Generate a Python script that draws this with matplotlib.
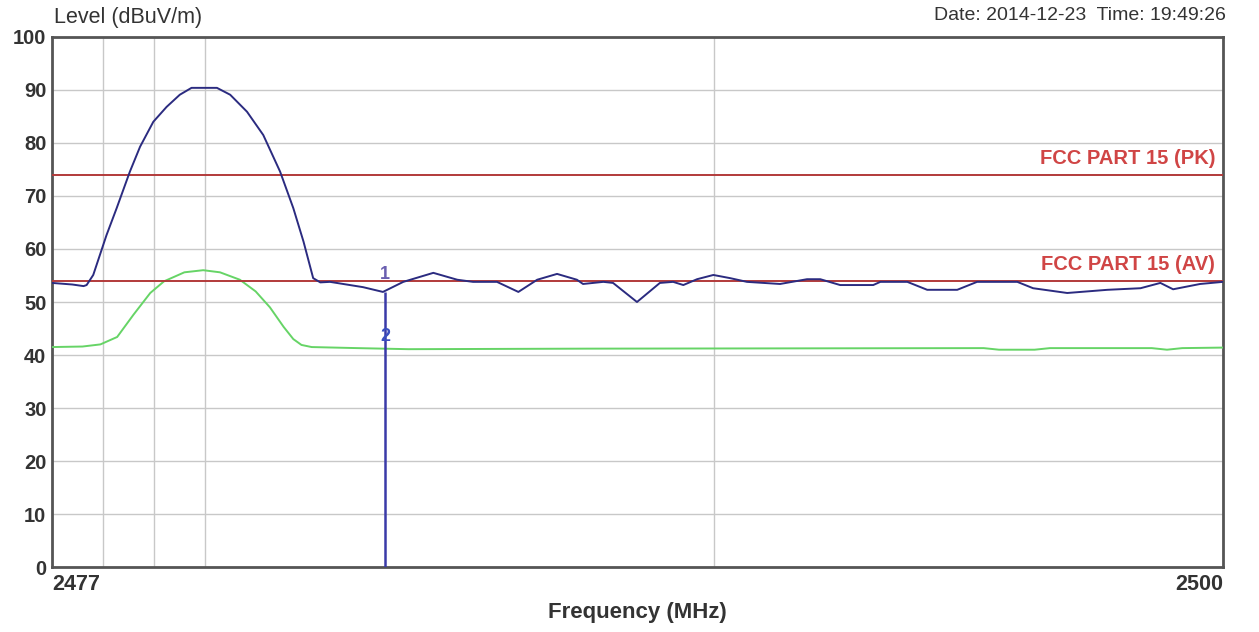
import numpy as np
import matplotlib.pyplot as plt

plt.rcParams['font.family'] = ['Liberation Sans', 'DejaVu Sans']

# peak trace (blue)
pk_freq = [2477.0, 2477.4, 2477.62, 2477.68, 2477.81, 2478.07, 2478.27, 2478.53, 2478.73,
           2478.99, 2479.25, 2479.51, 2479.74, 2480.24, 2480.5, 2480.83, 2481.15, 2481.48,
           2481.74, 2481.94, 2482.13, 2482.27, 2482.46,
           2483.11, 2483.5, 2483.9, 2484.49, 2484.96, 2485.27, 2485.74, 2486.16, 2486.53,
           2486.92, 2487.31, 2487.43, 2487.83, 2488.02, 2488.49, 2488.94, 2489.2, 2489.4,
           2489.67, 2489.99, 2490.32, 2490.65, 2491.3, 2491.83, 2492.09, 2492.48, 2493.13,
           2493.27, 2493.8, 2494.19, 2494.78, 2495.17, 2495.96, 2496.27, 2496.94, 2497.73,
           2498.38, 2498.77, 2499.02, 2499.55, 2500.0]
pk_level = [53.6, 53.3, 53.0, 53.2, 55.1, 62.6, 67.7, 74.6, 79.3,
            84.0, 86.8, 89.1, 90.4, 90.4, 89.1, 85.9, 81.5, 74.6,
            67.7, 61.4, 54.5, 53.7, 53.8,
            52.8, 51.9, 53.8, 55.5, 54.2, 53.8, 53.8, 51.9, 54.2,
            55.3, 54.2, 53.4, 53.8, 53.6, 50.0, 53.6, 53.8, 53.2,
            54.3, 55.1, 54.5, 53.8, 53.4, 54.3, 54.3, 53.2, 53.2,
            53.8, 53.8, 52.3, 52.3, 53.8, 53.8, 52.6, 51.7, 52.3,
            52.6, 53.6, 52.4, 53.4, 53.8]

# average trace (green)
av_freq = [2477.0, 2477.6, 2477.95, 2478.28, 2478.6, 2478.93, 2479.2, 2479.6, 2479.97,
           2480.3, 2480.69, 2481.0, 2481.28, 2481.55, 2481.74, 2481.9, 2482.1, 2483.0,
           2484.0, 2487.5, 2495.3, 2495.6, 2496.3, 2496.6, 2498.6, 2498.9, 2499.2, 2500.0]
av_level = [41.5, 41.6, 42.0, 43.4, 47.6, 51.7, 53.9, 55.6, 56.0,
            55.6, 54.2, 52.0, 49.0, 45.3, 43.0, 41.9, 41.5, 41.3,
            41.1, 41.2, 41.3, 41.0, 41.0, 41.3, 41.3, 41.0, 41.3, 41.4]

limit_pk = 74
limit_av = 54
marker_freq = 2483.54
marker_pk = 51.9
marker_av = 41.3

fig = plt.figure(figsize=(12.59, 6.32), dpi=100)
ax = fig.add_axes([0.0413, 0.1028, 0.9301, 0.8387])

ax.plot(pk_freq, pk_level, color='#2b2b80', lw=1.4, zorder=4)
ax.plot(av_freq, av_level, color='#66d466', lw=1.4, zorder=3)
ax.axhline(limit_pk, color='#b23a3a', lw=1.4, zorder=3)
ax.axhline(limit_av, color='#b23a3a', lw=1.4, zorder=3)
ax.text(2499.85, limit_pk + 1.3, 'FCC PART 15 (PK)', color='#d04545', fontsize=14.5,
        fontweight='bold', ha='right', va='bottom')
ax.text(2499.85, limit_av + 1.3, 'FCC PART 15 (AV)', color='#d04545', fontsize=14.5,
        fontweight='bold', ha='right', va='bottom')

# markers
ax.vlines(marker_freq, 0, marker_pk, color='#3a3aa8', lw=1.8, zorder=5)
ax.text(marker_freq, marker_pk + 3.3, '1', color='#6a5fb0', fontsize=13,
        fontweight='bold', ha='center', va='center', zorder=6)
ax.text(marker_freq, marker_av + 2.2, '2', color='#3a4fc0', fontsize=13,
        fontweight='bold', ha='center', va='center', zorder=6)

ax.set_xlim(2477, 2500)
ax.set_ylim(0, 100)
ax.set_yticks(np.arange(0, 101, 10))
ax.set_xticks([2477, 2500])
ax.set_xticks([2478, 2479, 2480, 2490], minor=True)
ax.grid(True, which='both', color='#c8c8c8', lw=1.0)
ax.set_axisbelow(True)
ax.tick_params(which='both', length=0)
ax.tick_params(axis='y', pad=4, labelsize=14.5, labelcolor='#333333')
ax.tick_params(axis='x', pad=5, labelsize=15.5, labelcolor='#333333')
for lab in ax.get_yticklabels() + ax.get_xticklabels():
    lab.set_fontweight('bold')
xl = ax.get_xticklabels()
xl[0].set_horizontalalignment('left')
xl[1].set_horizontalalignment('right')

for s in ax.spines.values():
    s.set_color('#555555')
    s.set_linewidth(2)

fig.text(0.043, 0.972, 'Level (dBuV/m)', fontsize=15.5, color='#333333', va='center')
fig.text(0.974, 0.975, 'Date: 2014-12-23  Time: 19:49:26', fontsize=14,
         color='#333333', ha='right', va='center')
fig.text(0.506, 0.031, 'Frequency (MHz)', fontsize=16, fontweight='bold',
         color='#333333', ha='center', va='center')

fig.savefig('out.png', dpi=100, facecolor='white')
